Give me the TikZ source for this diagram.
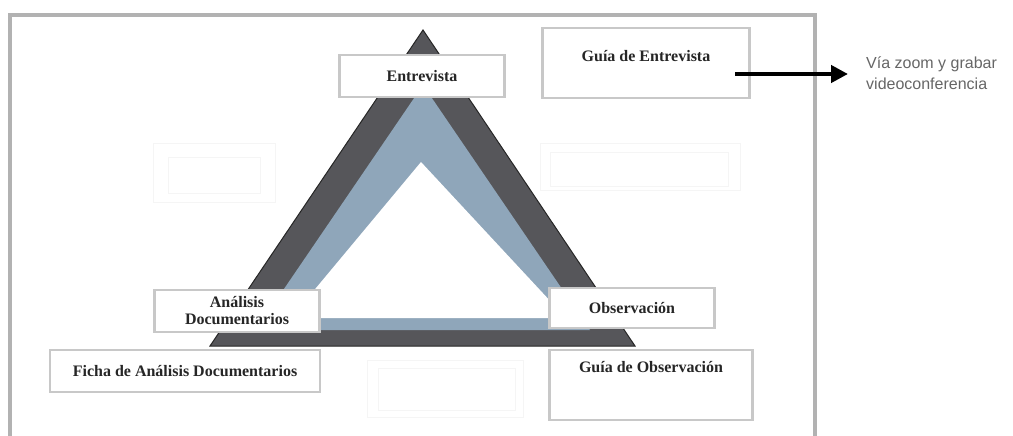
\documentclass[tikz,border=0pt]{standalone}
\usepackage{fontspec}
\setmainfont{Liberation Serif}
\newfontfamily\arialfont{Liberation Sans}
\usepackage{tikz}
\usetikzlibrary{arrows.meta}
\usetikzlibrary{positioning}
\definecolor{darkband}{RGB}{86,86,90}
\definecolor{blueband}{RGB}{143,166,186}
\definecolor{boxline}{RGB}{200,200,200}
\definecolor{frameline}{RGB}{178,178,178}

\begin{document}
\begin{tikzpicture}[x=1pt, y=-1pt, >=latex,
    every node/.style={font=\fontsize{16}{17}\selectfont\bfseries, text=black!85},
    box/.style={draw=boxline, line width=2.5pt, fill=white, inner sep=0pt, align=center},
    ghost/.style={draw=black!4, line width=1pt}]
  \useasboundingbox (0,0) rectangle (1013,436);

  % frame
  \draw[frameline, line width=4pt] (10,436) -- (10,15) -- (815,15) -- (815,436);

  % faint empty boxes
  \draw[ghost] (153,143) rectangle (275,202);
  \draw[ghost] (168,157) rectangle (260,193);
  \draw[ghost] (540,143) rectangle (740,190);
  \draw[ghost] (550,152) rectangle (728,186);
  \draw[ghost] (367,360) rectangle (523,417);
  \draw[ghost] (378,368) rectangle (515,410);

  % triangle
  \filldraw[fill=darkband, draw=black!85, line width=1pt] (423,30) -- (210,346) -- (635,346) -- cycle;
  \fill[blueband] (423,85) -- (256,330) -- (590,330) -- cycle;
  \fill[white] (421,162) -- (291,318) -- (566,318) -- cycle;

  % corners
  \node[box, minimum width=165pt, minimum height=42pt] (entrevista) at (422,76) {Entrevista};
  \node[box, minimum width=165pt, minimum height=42pt] (analisis) at (237,311) {Análisis\\Documentarios};
  \node[box, minimum width=165pt, minimum height=40pt] (observacion) at (632,308) {Observación};

  % instruments
  \node[box, minimum width=270pt, minimum height=42pt] (ficha) at (185,371) {Ficha de Análisis Documentarios};
  \node[box, minimum width=207pt, minimum height=70pt] (guiaent) at (646,63) {};
  \node (guiaenttxt) at ([yshift=-29pt]guiaent.north) {Guía de Entrevista};
  \node[box, minimum width=203pt, minimum height=70pt] (guiaobs) at (651,385) {};
  \node (guiaobstxt) at ([yshift=-18pt]guiaobs.north) {Guía de Observación};

  % via zoom
  \node[font=\arialfont\fontsize{16}{21}\selectfont, text=black!60, align=left, anchor=west, inner sep=0pt] (via) at (866,73) {Vía zoom y grabar\\videoconferencia};
  \coordinate (arrowstart) at (735,74);
  \path (via.west |- arrowstart) coordinate (viaedge);
  \draw[-{Triangle[length=17pt,width=17pt]}, line width=4.5pt] (arrowstart) -- ([xshift=-18pt]viaedge);
\end{tikzpicture}
\end{document}
